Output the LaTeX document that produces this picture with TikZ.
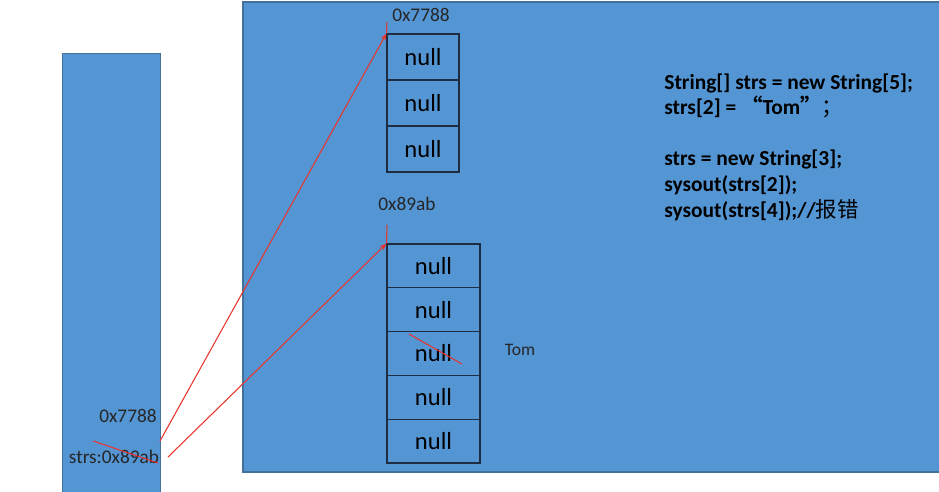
\documentclass[tikz,border=0pt]{standalone}
\usepackage{fontspec}
\setmainfont{Carlito}
\newfontfamily\cjk{Noto Sans CJK SC}
\usetikzlibrary{arrows.meta,positioning}
\definecolor{memblue}{RGB}{84,150,212}
\definecolor{memedge}{RGB}{65,113,156}
\definecolor{ptrred}{RGB}{232,52,44}
\definecolor{celledge}{RGB}{30,45,65}

\begin{document}
\begin{tikzpicture}[x=0.02cm, y=-0.02cm,
  cell/.style={draw=celledge, line width=0.6pt, minimum height=#1, inner sep=0pt, font=\fontsize{14}{14}\selectfont},
  addr/.style={font=\fontsize{11}{11}\selectfont, text=black!85, inner sep=0pt},
  redline/.style={draw=ptrred, line width=0.6pt},
  ptr/.style={redline, -{Stealth[length=4pt,width=3pt]}}]
  \useasboundingbox (0,0) rectangle (939,491);
  \fill[white] (0,0) rectangle (939,491);

  % stack and heap
  \filldraw[fill=memblue, draw=memedge, line width=0.5pt] (62,53) rectangle (160,495);
  \filldraw[fill=memblue, draw=memedge, line width=0.8pt] (243,2) rectangle (943,472);

  % arrays
  \foreach \i in {0,1,2}
    \node[cell=0.92cm, minimum width=1.44cm] (a\i) at (423,{57+46*\i}) {null};
  \foreach \i in {0,...,4}
    \node[cell=0.876cm, minimum width=1.86cm] (b\i) at (433.5,{265.9+43.8*\i}) {null};

  \node[addr] (topaddr) at (421,15) {0x7788};
  \node[addr] (botaddr) at (407,204) {0x89ab};
  \node[addr, font=\fontsize{10}{10}\selectfont] (tom) at (520,350) {Tom};
  \node[addr] (ref1) at (128,416) {0x7788};
  \node[addr] (ref2) at (114,457) {strs:0x89ab};

  % code
  \node[anchor=north west, align=left, inner sep=0pt,
        font=\bfseries\fontsize{12.2}{14.6}\selectfont] (code) at (664,73)
    {String[] strs = new String[5];\\
     strs[2] = {\cjk “}Tom{\cjk ”\mdseries ；}\\[14.6pt]
     strs = new String[3];\\
     sysout(strs[2]);\\
     sysout(strs[4]);//{\cjk\mdseries 报错}};

  % references
  \coordinate (tick1) at (387,22);
  \coordinate (tick2) at (387,225);
  \draw[redline] (tick1) -- (a0.north west);
  \draw[redline] (tick2) -- (b0.north west);
  \coordinate (from1) at (160,441);
  \coordinate (from2) at (168,457);
  \draw[ptr] (from1) -- (a0.north west);
  \draw[ptr] (from2) -- (b0.north west);

  % crossed out
  \draw[redline] (93,441) -- (158,463);
  \draw[redline] (409,334) -- (462,364);
\end{tikzpicture}
\end{document}
